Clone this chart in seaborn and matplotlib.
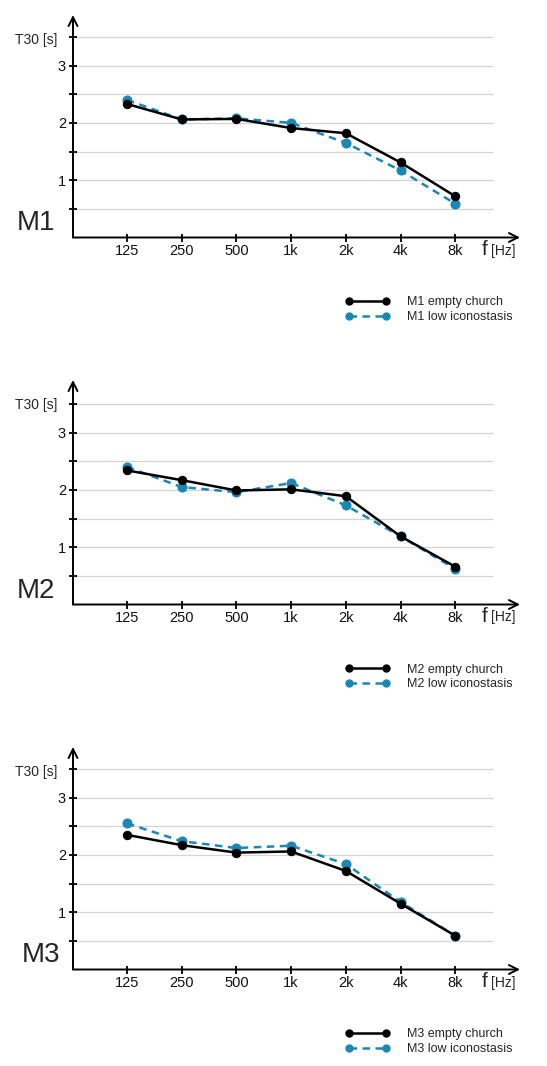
import numpy as np
import pandas as pd
import matplotlib
matplotlib.use("Agg")
import matplotlib.pyplot as plt
import seaborn as sns
from matplotlib.lines import Line2D
from matplotlib.legend_handler import HandlerLine2D

bands = ["125", "250", "500", "1k", "2k", "4k", "8k"]

m1_empty = [2.33, 2.06, 2.07, 1.91, 1.82, 1.31, 0.72]
m1_low = [2.40, 2.06, 2.08, 2.00, 1.65, 1.17, 0.59]
m2_empty = [2.34, 2.17, 1.99, 2.01, 1.89, 1.19, 0.66]
m2_low = [2.40, 2.05, 1.96, 2.12, 1.73, 1.19, 0.62]
m3_empty = [2.35, 2.17, 2.04, 2.06, 1.72, 1.15, 0.59]
m3_low = [2.55, 2.24, 2.12, 2.16, 1.84, 1.18, 0.59]

panels = [("M1", m1_empty, m1_low), ("M2", m2_empty, m2_low), ("M3", m3_empty, m3_low)]

sns.set_theme(style="white")
plt.rcParams["font.family"] = ["Liberation Sans", "DejaVu Sans"]

W, H = 547, 1066
fig = plt.figure(figsize=(W / 100, H / 100), dpi=100)

BLACK = "#000000"
BLUE = "#1a87b5"

# pixel geometry of each panel: (axis zero y, top arrow y)
geom = [(237.5, 15), (604.5, 380), (969.5, 747)]
x_left, x_right = 73, 520
x0_pix, dx_pix = 127, 54.7
m_x = [17, 17, 22]

def fx(px):
    return px / W

def fy(py):
    return 1 - py / H

for (name, empty, low), (y0, ytop), mx in zip(panels, geom, m_x):
    unit = 57.3
    ax = fig.add_axes([fx(x_left), fy(y0), (x_right - x_left) / W, (y0 - ytop) / H])
    ax.set_xlim((x_left - x0_pix) / dx_pix, (x_right - x0_pix) / dx_pix)
    ax.set_ylim(0, (y0 - ytop) / unit)
    for s in ax.spines.values():
        s.set_visible(False)
    # grid lines
    grid_end = (493 - x0_pix) / dx_pix
    for g in np.arange(0.5, 3.51, 0.5):
        ax.hlines(g, ax.get_xlim()[0], grid_end, color="#d4d4d4", lw=0.9, zorder=0)
    # axis arrows
    ax.annotate("", xy=(0, 1), xytext=(0, 0), xycoords="axes fraction",
                arrowprops=dict(arrowstyle="->", lw=1.4, color="black", mutation_scale=16,
                                shrinkA=0, shrinkB=0))
    ax.annotate("", xy=(1, 0), xytext=(0, 0), xycoords="axes fraction",
                arrowprops=dict(arrowstyle="->", lw=1.4, color="black", mutation_scale=16,
                                shrinkA=0, shrinkB=0))
    df = pd.DataFrame({"x": np.arange(len(bands)), "empty": empty, "low": low})
    sns.lineplot(data=df, x="x", y="low", ax=ax, color=BLUE, lw=1.8, marker="o",
                 markersize=6.5, markeredgecolor=BLUE, dashes=False, zorder=3,
                 linestyle=(0, (3.0, 2.2)))
    sns.lineplot(data=df, x="x", y="empty", ax=ax, color=BLACK, lw=1.8, marker="o",
                 markersize=6, markeredgecolor=BLACK, zorder=4)
    ax.set_xlabel("")
    ax.set_ylabel("")
    ax.set_xticks(np.arange(len(bands)))
    ax.set_xticklabels(bands)
    yt = np.arange(0.5, 3.51, 0.5)
    ax.set_yticks(yt)
    ax.set_yticklabels(["" if abs(v - round(v)) > 1e-6 else str(int(round(v))) for v in yt])
    ax.tick_params(axis="both", direction="inout", length=6, width=1.3, color="black",
                   labelsize=10.5, pad=2, labelcolor="#111111", bottom=True, left=True)
    ax.set_xlim((x_left - x0_pix) / dx_pix, (x_right - x0_pix) / dx_pix)

    fig.text(fx(15), fy(ytop + 25), "T30 [s]", fontsize=10, va="center", ha="left")
    fig.text(fx(mx), fy(y0 - 14), name, fontsize=20, va="center", ha="left")
    fig.text(fx(482), fy(y0 + 12), "f", fontsize=15, va="center", ha="left")
    fig.text(fx(491), fy(y0 + 13), "[Hz]", fontsize=10, va="center", ha="left")

    handles = [
        Line2D([], [], color=BLACK, lw=1.8, marker="o", markersize=5),
        Line2D([], [], color=BLUE, lw=1.8, marker="o", markersize=5, linestyle=(0, (3.0, 2.2))),
    ]
    labels = [f"{name} empty church", f"{name} low iconostasis"]
    fig.legend(handles, labels, loc="upper left",
               bbox_to_anchor=(fx(338), fy(y0 + 59)), frameon=False, fontsize=9,
               handlelength=4.7, handletextpad=0.8, labelspacing=0.2, borderpad=0,
               borderaxespad=0,
               handler_map={Line2D: HandlerLine2D(numpoints=2, marker_pad=0.9)})

fig.savefig("out.png", dpi=100)
